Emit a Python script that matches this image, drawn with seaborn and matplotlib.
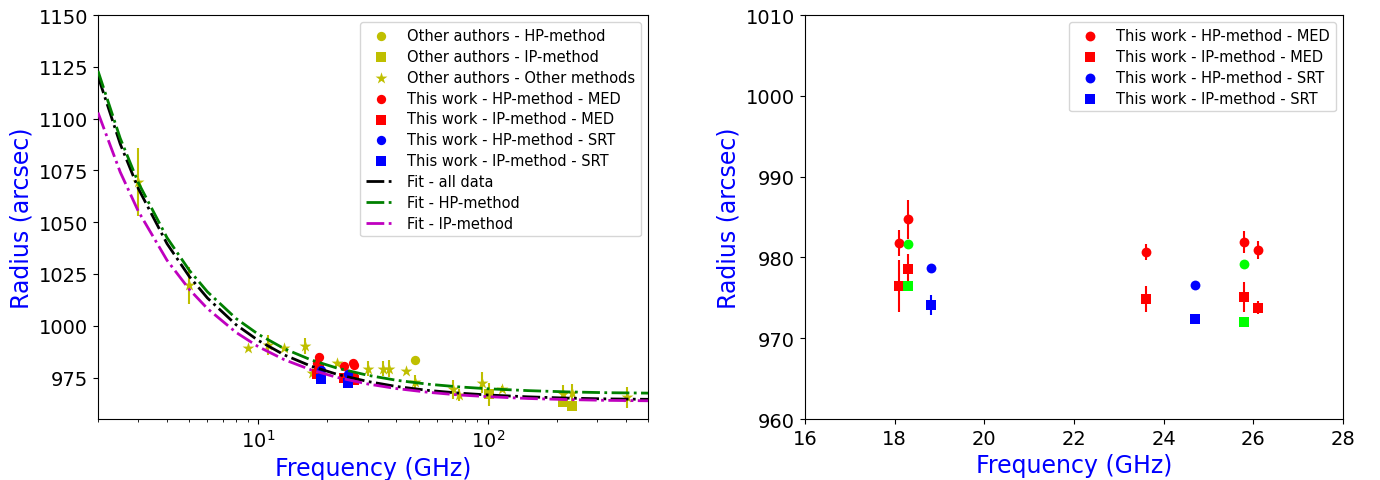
import numpy as np
import matplotlib
matplotlib.use("Agg")
import matplotlib.pyplot as plt
import seaborn as sns

# other authors (yellow)
oth_hp_f = [48.0]
oth_hp_r = [983.7]
oth_ip_f = [101.0, 213.0, 234.0]
oth_ip_r = [966.9, 963.0, 961.5]
oth_ip_e = [5.5, 2.0, 2.5]
oth_st_f = [3.0, 5.0, 9.0, 11.0, 13.0, 16.0, 17.1, 22.0, 30.0, 35.0, 37.3, 44.0,
            48.0, 70.6, 74.8, 94.5, 115.6, 213.0, 232.0, 406.0]
oth_st_r = [1069.5, 1019.6, 989.2, 990.7, 989.2, 990.3, 977.0, 982.2, 979.3, 979.3,
            979.3, 978.2, 973.1, 969.3, 966.5, 972.6, 969.3, 967.3, 967.6, 965.4]
oth_st_e = [16.5, 9.0, 0.0, 4.7, 0.0, 4.0, 0.0, 0.0, 3.6, 3.6, 4.0, 0.0,
            3.0, 4.6, 3.0, 5.0, 1.5, 4.0, 4.5, 5.0]

# this work
med_hp_f = [18.1, 18.3, 23.6, 25.8, 26.1]
med_hp_r = [981.8, 984.7, 980.7, 981.9, 980.9]
med_hp_e = [1.6, 2.4, 1.0, 1.4, 1.1]
med_ip_f = [18.1, 18.3, 23.6, 25.8, 26.1]
med_ip_r = [976.5, 978.6, 974.9, 975.1, 973.8]
med_ip_e = [3.2, 1.8, 1.6, 1.8, 0.8]
srt_hp_f = [18.8, 24.7]
srt_hp_r = [978.7, 976.6]
srt_hp_e = [0.5, 0.5]
srt_ip_f = [18.8, 24.7]
srt_ip_r = [974.1, 972.4]
srt_ip_e = [1.2, 0.3]
grn_hp_f = [18.3, 25.8]
grn_hp_r = [981.6, 979.2]
grn_ip_f = [18.3, 25.8]
grn_ip_r = [976.4, 972.0]

# fit curves
fit_f = [2, 2.5, 3, 4, 5, 6, 8, 10, 13, 17, 22, 30, 40, 55, 75, 100, 150, 220, 330, 500]
fit_all = [1120.5, 1087.8, 1066.2, 1039.6, 1023.8, 1013.4, 1000.5, 992.9, 985.9, 980.5,
           976.6, 973.1, 970.7, 968.8, 967.5, 966.6, 965.7, 965.1, 964.7, 964.5]
fit_hp = [1123.0, 1090.5, 1069.0, 1042.5, 1026.8, 1016.4, 1003.5, 995.9, 988.9, 983.5,
          979.6, 976.1, 973.7, 971.8, 970.5, 969.6, 968.7, 968.1, 967.7, 967.5]
fit_ip = [1102.9, 1074.2, 1055.2, 1031.6, 1017.6, 1008.3, 996.8, 989.9, 983.6, 978.7,
          975.1, 971.9, 969.7, 967.9, 966.6, 965.8, 964.9, 964.4, 964.0, 963.8]

YEL = (0.75, 0.75, 0.0)

fig = plt.figure(figsize=(13.8, 4.81), dpi=100)
ax1 = fig.add_axes([0.0710, 0.1268, 0.3986, 0.8399])
ax2 = fig.add_axes([0.5833, 0.1268, 0.3899, 0.8399])


def pts(ax, f, r, e, color, marker, label, s=45):
    if e is not None:
        ax.errorbar(f, r, yerr=e, fmt='none', ecolor=color, elinewidth=1.5, zorder=2)
    sns.scatterplot(x=f, y=r, color=color, marker=marker, s=s, linewidth=0,
                    label=label, ax=ax, zorder=3)


# left panel
pts(ax1, oth_hp_f, oth_hp_r, None, YEL, 'o', 'Other authors - HP-method')
pts(ax1, oth_ip_f, oth_ip_r, oth_ip_e, YEL, 's', 'Other authors - IP-method')
pts(ax1, oth_st_f, oth_st_r, oth_st_e, YEL, '*', 'Other authors - Other methods', s=80)
pts(ax1, med_hp_f, med_hp_r, med_hp_e, 'red', 'o', 'This work - HP-method - MED')
pts(ax1, med_ip_f, med_ip_r, med_ip_e, 'red', 's', 'This work - IP-method - MED')
pts(ax1, srt_hp_f, srt_hp_r, srt_hp_e, 'blue', 'o', 'This work - HP-method - SRT')
pts(ax1, srt_ip_f, srt_ip_r, srt_ip_e, 'blue', 's', 'This work - IP-method - SRT')
sns.lineplot(x=fit_f, y=fit_all, color='k', linestyle='-.', lw=2, label='Fit - all data', ax=ax1, zorder=4)
sns.lineplot(x=fit_f, y=fit_hp, color='green', linestyle='-.', lw=2, label='Fit - HP-method', ax=ax1, zorder=4)
sns.lineplot(x=fit_f, y=fit_ip, color='m', linestyle='-.', lw=2, label='Fit - IP-method', ax=ax1, zorder=4)
ax1.set_xscale('log')
ax1.set_xlim(2, 500)
ax1.set_ylim(955, 1150)
ax1.set_yticks(np.arange(975, 1151, 25))
ax1.legend(loc='upper right', fontsize=10.5, labelspacing=0.4)

# right panel
pts(ax2, med_hp_f, med_hp_r, med_hp_e, 'red', 'o', 'This work - HP-method - MED', s=50)
pts(ax2, med_ip_f, med_ip_r, med_ip_e, 'red', 's', 'This work - IP-method - MED', s=50)
pts(ax2, srt_hp_f, srt_hp_r, srt_hp_e, 'blue', 'o', 'This work - HP-method - SRT', s=50)
pts(ax2, srt_ip_f, srt_ip_r, srt_ip_e, 'blue', 's', 'This work - IP-method - SRT', s=50)
sns.scatterplot(x=grn_hp_f, y=grn_hp_r, color='lime', marker='o', s=50, linewidth=0, ax=ax2, zorder=3)
sns.scatterplot(x=grn_ip_f, y=grn_ip_r, color='lime', marker='s', s=50, linewidth=0, ax=ax2, zorder=3)
ax2.set_xlim(16, 28)
ax2.set_ylim(960, 1010)
ax2.set_xticks(np.arange(16, 29, 2))
ax2.set_yticks(np.arange(960, 1011, 10))
ax2.legend(loc='upper right', fontsize=10.5, labelspacing=0.4)

for ax in (ax1, ax2):
    ax.set_xlabel('Frequency (GHz)', color='blue', fontsize=17)
    ax.set_ylabel('Radius (arcsec)', color='blue', fontsize=17)
    ax.tick_params(labelsize=14)

fig.savefig('out.png', dpi=100)
